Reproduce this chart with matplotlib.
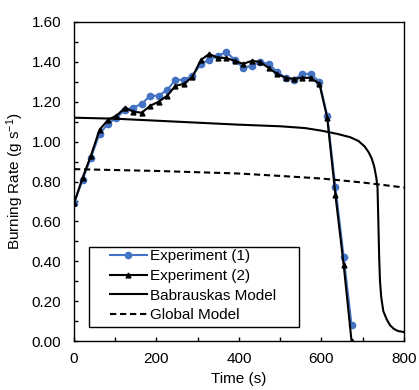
import matplotlib
matplotlib.use("Agg")
import matplotlib.pyplot as plt
from matplotlib.ticker import MultipleLocator
from matplotlib.patches import Rectangle

plt.rcParams['font.family'] = ['Liberation Sans', 'DejaVu Sans']
plt.rcParams['mathtext.fontset'] = 'custom'
plt.rcParams['mathtext.rm'] = 'Liberation Sans'
plt.rcParams['mathtext.it'] = 'Liberation Sans:italic'

# experiment time (s)
t_exp = [0, 21, 41, 62, 83, 103, 124, 144, 164, 185, 205, 226, 246, 267, 287, 308, 328,
         349, 369, 390, 410, 431, 451, 472, 492, 513, 533, 554, 574, 595, 614, 634, 654, 673]

exp1 = [0.69, 0.81, 0.92, 1.04, 1.09, 1.12, 1.16, 1.17, 1.19, 1.23, 1.23, 1.26, 1.31, 1.31,
        1.33, 1.39, 1.41, 1.43, 1.45, 1.41, 1.37, 1.38, 1.40, 1.39, 1.35, 1.32, 1.31, 1.34,
        1.34, 1.30, 1.13, 0.77, 0.42, 0.08]

exp2 = [0.69, 0.82, 0.93, 1.06, 1.11, 1.13, 1.17, 1.15, 1.145, 1.18, 1.20, 1.23, 1.28, 1.29,
        1.325, 1.41, 1.44, 1.42, 1.42, 1.405, 1.39, 1.405, 1.40, 1.37, 1.34, 1.32, 1.315, 1.32,
        1.32, 1.29, 1.12, 0.73, 0.38, 0.0]

# Babrauskas model
t_bab = [0, 100, 200, 300, 400, 500, 560, 600, 640, 670, 690, 705, 715, 722, 728, 733, 736,
         738, 740, 742, 745, 750, 758, 766, 776, 786, 800]
bab = [1.12, 1.115, 1.105, 1.095, 1.085, 1.077, 1.068, 1.055, 1.038, 1.022, 1.003, 0.975,
       0.945, 0.915, 0.875, 0.82, 0.77, 0.6, 0.42, 0.3, 0.22, 0.15, 0.11, 0.08, 0.06, 0.05, 0.045]

# Global model
t_glob = [0, 200, 400, 500, 600, 700, 800]
glob = [0.862, 0.853, 0.84, 0.828, 0.815, 0.795, 0.77]

fig = plt.figure(figsize=(4.19, 3.9), dpi=100)
ax = fig.add_axes([0.1766, 0.1256, 0.7874, 0.818])

ax.plot(t_exp, exp1, color="#4472C4", lw=1.5, marker="o", ms=4.5, label="Experiment (1)")
ax.plot(t_exp, exp2, color="black", lw=1.5, marker="^", ms=3.5, label="Experiment (2)")
ax.plot(t_bab, bab, color="black", lw=1.5, label="Babrauskas Model")
ax.plot(t_glob, glob, color="black", lw=1.5, linestyle=(0, (3, 1.8)), label="Global Model")

ax.set_xlim(0, 800)
ax.set_ylim(0, 1.6)
ax.xaxis.set_major_locator(MultipleLocator(200))
ax.xaxis.set_minor_locator(MultipleLocator(100))
ax.yaxis.set_major_locator(MultipleLocator(0.2))
ax.yaxis.set_minor_locator(MultipleLocator(0.1))
ax.yaxis.set_major_formatter(plt.FormatStrFormatter("%.2f"))

ax.tick_params(which="both", direction="in", length=3, width=1, labelsize=11)
ax.tick_params(axis="y", pad=9)
ax.tick_params(axis="x", pad=8)

for s in ax.spines.values():
    s.set_linewidth(1)
    s.set_color("black")

ax.set_xlabel("Time (s)", fontsize=11, labelpad=4)
ax.set_ylabel("Burning Rate (g s$^{-1}$)", fontsize=11, labelpad=4)

# legend box drawn separately (wide side padding like the original)
box = Rectangle((0.045, 0.044), 0.636, 0.251, transform=ax.transAxes,
                facecolor="white", edgecolor="black", lw=1, zorder=4)
ax.add_patch(box)
leg = ax.legend(loc="upper left", bbox_to_anchor=(0.109, 0.287), borderaxespad=0,
                fontsize=11, frameon=False, handlelength=2.4, handletextpad=0.2,
                labelspacing=0.37, borderpad=0)
leg.set_zorder(5)

fig.savefig("out.png", dpi=100)
